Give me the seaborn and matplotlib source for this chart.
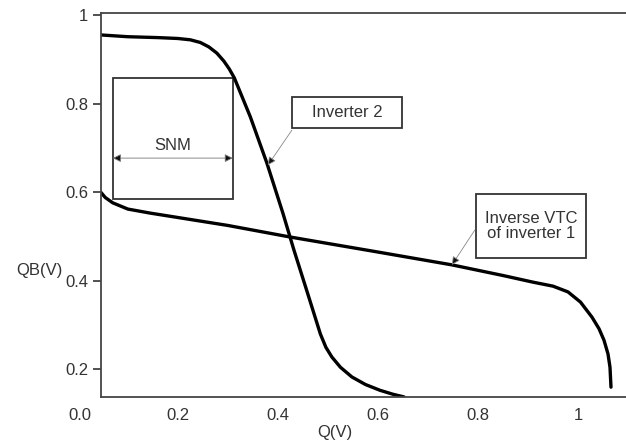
import numpy as np
import pandas as pd
import matplotlib.pyplot as plt
import seaborn as sns

sns.set_style("white")
plt.rcParams['font.family'] = ['Liberation Sans', 'DejaVu Sans']
plt.rcParams['font.size'] = 12

# Curva del inversor 2 (Q -> QB)
inv2_q = [0.046, 0.10, 0.16, 0.20, 0.225, 0.245, 0.262, 0.278, 0.292, 0.303, 0.313,
          0.345, 0.378, 0.41, 0.432, 0.46, 0.485, 0.496, 0.508, 0.525, 0.548, 0.575,
          0.604, 0.63, 0.652]
inv2_qb = [0.955, 0.951, 0.949, 0.947, 0.944, 0.938, 0.928, 0.914, 0.896, 0.878, 0.858,
           0.77, 0.666, 0.553, 0.47, 0.37, 0.28, 0.25, 0.228, 0.205, 0.183, 0.166,
           0.153, 0.144, 0.138]

# Curva VTC inversa del inversor 1
vtc_q = [0.046, 0.055, 0.07, 0.10, 0.144, 0.30, 0.424, 0.60, 0.748, 0.85, 0.91,
         0.95, 0.98, 1.005, 1.028, 1.042, 1.052, 1.06, 1.064, 1.066]
vtc_qb = [0.6, 0.588, 0.576, 0.562, 0.553, 0.525, 0.499, 0.465, 0.436, 0.412, 0.397,
          0.388, 0.375, 0.352, 0.318, 0.292, 0.266, 0.235, 0.205, 0.16]

x_ticks = [0.2, 0.4, 0.6, 0.8, 1.0]
x_labels = ['0.2', '0.4', '0.6', '0.8', '1']
y_ticks = [0.2, 0.4, 0.6, 0.8, 1.0]
y_labels = ['0.2', '0.4', '0.6', '0.8', '1']

df_inv2 = pd.DataFrame({'Q': inv2_q, 'QB': inv2_qb})
df_vtc = pd.DataFrame({'Q': vtc_q, 'QB': vtc_qb})

fig = plt.figure(figsize=(6.26, 4.41), dpi=100)
ax = fig.add_axes([0.161, 0.1, 0.839, 0.871])

sns.lineplot(data=df_inv2, x='Q', y='QB', ax=ax, color='black', linewidth=2.4, sort=False)
sns.lineplot(data=df_vtc, x='Q', y='QB', ax=ax, color='black', linewidth=2.4, sort=False)

ax.set_xlim(0.046, 1.096)
ax.set_ylim(0.138, 1.005)
ax.set_xticks(x_ticks)
ax.set_xticklabels(x_labels)
ax.set_yticks(y_ticks)
ax.set_yticklabels(y_labels)
ax.tick_params(axis='x', length=0, pad=8, colors='#333333')
ax.tick_params(axis='y', length=6, width=1.2, direction='out', left=True, pad=3, colors='#333333')
for s in ['left', 'top', 'bottom']:
    ax.spines[s].set_color('#444444')
    ax.spines[s].set_linewidth(1.3)
ax.spines['right'].set_visible(False)

ax.set_xlabel('Q(V)', color='#333333', va='center')
ax.xaxis.set_label_coords(0.445, -0.092)
ax.set_ylabel('QB(V)', color='#333333', rotation=0, va='center', ha='center')
ax.yaxis.set_label_coords(-0.116, 0.33)
ax.text(-0.04, -0.03, '0.0', transform=ax.transAxes, ha='center', va='top', color='#333333')

box_style = dict(fill=False, edgecolor='#333333', linewidth=1.3)
arrow_style = dict(arrowstyle='-|>', edgecolor='#888888', facecolor='#111111', lw=0.6,
                   mutation_scale=12, shrinkA=0, shrinkB=0)

# Caja SNM
ax.add_patch(plt.Rectangle((0.07, 0.585), 0.24, 0.273, **box_style))
ax.annotate('', xy=(0.07, 0.677), xytext=(0.31, 0.677),
            arrowprops=dict(arrowstyle='<|-|>', edgecolor='#777777', facecolor='#111111',
                            lw=0.6, mutation_scale=12, shrinkA=0, shrinkB=0))
ax.text(0.19, 0.705, 'SNM', ha='center', va='center', color='#333333')

# Etiqueta del inversor 2
ax.add_patch(plt.Rectangle((0.428, 0.745), 0.22, 0.07, **box_style))
ax.text(0.538, 0.780, 'Inverter 2', ha='center', va='center', color='#333333')
ax.annotate('', xy=(0.38, 0.661), xytext=(0.428, 0.740), arrowprops=arrow_style)

# Etiqueta de la VTC inversa
ax.add_patch(plt.Rectangle((0.796, 0.451), 0.22, 0.145, **box_style))
ax.text(0.906, 0.524, 'Inverse VTC\nof inverter 1', ha='center', va='center',
        color='#333333', linespacing=1.0)
ax.annotate('', xy=(0.748, 0.436), xytext=(0.794, 0.515), arrowprops=arrow_style)

plt.savefig('out.png', dpi=100)
